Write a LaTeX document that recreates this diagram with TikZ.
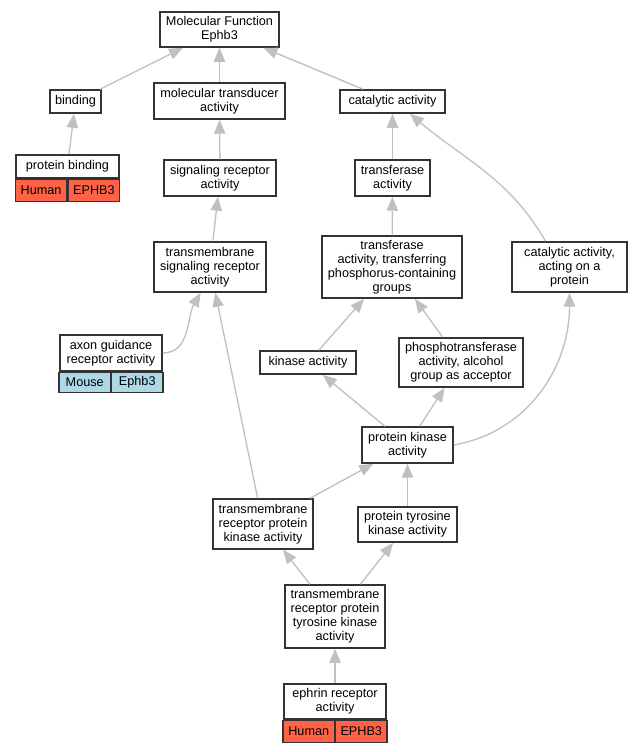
\documentclass[tikz,border=0pt]{standalone}
\usepackage{fontspec}
\setmainfont{Liberation Sans}
\usetikzlibrary{arrows.meta}
\definecolor{annhuman}{HTML}{FF6347}
\definecolor{annmouse}{HTML}{ADD8E6}
\definecolor{edgegray}{HTML}{C0C0C0}
\tikzset{
  term/.style={draw=black!80, line width=1.1pt, fill=white, align=center, inner sep=1pt,
    font=\fontsize{9.5}{10.5}\selectfont},
  cell/.style={term, minimum width=38.6pt, minimum height=16.5pt},
  isa/.style={draw=edgegray, line width=1pt, -{Triangle[length=10.5pt,width=8.5pt]}},
}
\begin{document}
\begin{tikzpicture}[x=0.75pt,y=0.75pt,yscale=-1,xscale=1]
\useasboundingbox (0,0) rectangle (635,752);
% Text Node
\node[term, minimum width=89.3pt, minimum height=26.3pt] (mf) at (219.5,29.5) {Molecular Function\\Ephb3};
% Text Node
\node[term, minimum width=38.3pt, minimum height=17.3pt] (bind) at (75.5,101.5) {binding};
% Text Node
\node[term, minimum width=98.3pt, minimum height=27pt] (mtd) at (219.5,101) {molecular transducer\\activity};
% Text Node
\node[term, minimum width=78.8pt, minimum height=17.3pt] (cat) at (392.5,101.5) {catalytic activity};
% Text Node
\node[term, minimum width=77.3pt, minimum height=17.3pt] (pb) at (67.5,166.5) {protein binding};
\node[cell, fill=annhuman, anchor=north east] (pbh) at (pb.south) {Human};
\node[cell, fill=annhuman, anchor=north west] (pbg) at (pb.south) {EPHB3};
% Text Node
\node[term, minimum width=84pt, minimum height=27pt] (sra) at (220,178) {signaling receptor\\activity};
% Text Node
\node[term, minimum width=56.3pt, minimum height=27pt] (tra) at (392.5,178) {transferase\\activity};
% Text Node
\node[term, minimum width=84pt, minimum height=37.5pt] (tmsr) at (210,267) {transmembrane\\signaling receptor\\activity};
% Text Node
\node[term, minimum width=105pt, minimum height=46.5pt] (tpg) at (392,267) {transferase\\activity, transferring\\phosphorus-containing\\groups};
% Text Node
\node[term, minimum width=86.3pt, minimum height=37.5pt] (cap) at (569.5,267) {catalytic activity,\\acting on a\\protein};
% Text Node
\node[term, minimum width=76.5pt, minimum height=27pt] (axon) at (111,353) {axon guidance\\receptor activity};
\node[cell, fill=annmouse, minimum width=38.3pt, minimum height=15pt, anchor=north east] (axonm) at (axon.south) {Mouse};
\node[cell, fill=annmouse, minimum width=38.3pt, minimum height=15pt, anchor=north west] (axong) at (axon.south) {Ephb3};
% Text Node
\node[term, minimum width=72pt, minimum height=17.3pt] (kin) at (308,362.5) {kinase activity};
% Text Node
\node[term, minimum width=93pt, minimum height=36.8pt] (pho) at (461,362.5) {phosphotransferase\\activity, alcohol\\group as acceptor};
% Text Node
\node[term, minimum width=68.3pt, minimum height=27pt] (pk) at (407.5,445) {protein kinase\\activity};
% Text Node
\node[term, minimum width=75pt, minimum height=37.5pt] (tmrpk) at (263,524) {transmembrane\\receptor protein\\kinase activity};
% Text Node
\node[term, minimum width=74.3pt, minimum height=26.3pt] (ptk) at (407.5,524.5) {protein tyrosine\\kinase activity};
% Text Node
\node[term, minimum width=75pt, minimum height=47.3pt] (tmrptk) at (335,616.5) {transmembrane\\receptor protein\\tyrosine kinase\\activity};
% Text Node
\node[term, minimum width=76.5pt, minimum height=26.3pt] (eph) at (335,701.5) {ephrin receptor\\activity};
\node[cell, fill=annhuman, minimum width=38.3pt, anchor=north east] (ephh) at (eph.south) {Human};
\node[cell, fill=annhuman, minimum width=38.3pt, anchor=north west] (ephg) at (eph.south) {EPHB3};

% is_a edges
\draw[isa] (bind) -- (mf);
\draw[isa] (mtd) -- (mf);
\draw[isa] (cat) -- (mf);
\draw[isa] (pb) -- (bind);
\draw[isa] (sra) -- (mtd);
\draw[isa] (tra) -- (cat);
\draw[isa] (tmsr) -- (sra);
\draw[isa] (tpg) -- (tra);
\draw[isa] ([xshift=-18pt]cap.north) to[out=-120,in=40] ([xshift=13pt]cat.south);
\draw[isa] (axon.east) to[out=0,in=120] (tmsr.250);
\draw[isa] (tmrpk) -- (tmsr);
\draw[isa] (kin) -- (tpg);
\draw[isa] (pho) -- (tpg);
\draw[isa] (pk) -- (kin);
\draw[isa] (pk) -- (pho);
\draw[isa] (pk.east) to[out=-10,in=90] (cap.south);
\draw[isa] (tmrpk) -- (pk);
\draw[isa] (ptk) -- (pk);
\draw[isa] (tmrptk) -- (tmrpk);
\draw[isa] (tmrptk) -- (ptk);
\draw[isa] (eph) -- (tmrptk);
\end{tikzpicture}
\end{document}
